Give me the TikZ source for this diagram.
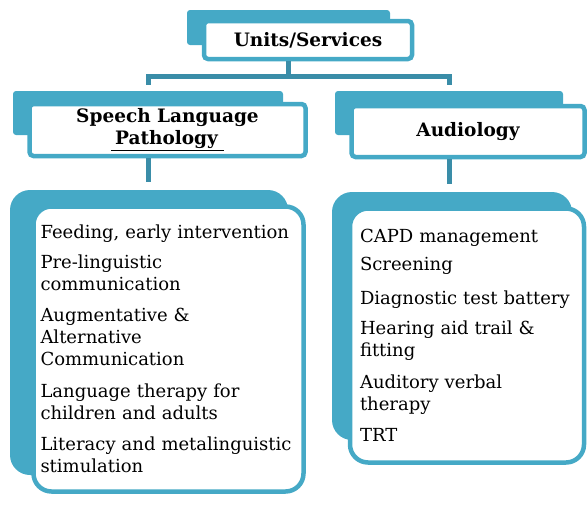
\documentclass[tikz,border=0pt]{standalone}
\usepackage{fontspec}
\setmainfont{DejaVu Serif}
\definecolor{boxteal}{HTML}{45A9C6}
\definecolor{linkteal}{HTML}{3A8DA8}
\begin{document}
\begin{tikzpicture}[x=1pt, y=-1pt,
  back/.style={fill=boxteal, rounded corners=3pt, inner sep=0pt},
  backlist/.style={fill=boxteal, rounded corners=20pt, inner sep=0pt},
  head/.style={draw=boxteal, line width=4.5pt, fill=white, rounded corners=4pt,
    font=\bfseries\fontsize{18.5}{22}\selectfont, align=center, inner sep=0pt},
  list/.style={draw=boxteal, line width=4.5pt, fill=white, rounded corners=18pt,
    font=\fontsize{18}{22}\selectfont, align=left, inner sep=0pt},
  link/.style={draw=linkteal, line width=5pt}]
  \useasboundingbox (0,0) rectangle (588,504);
  % back plates
  \node[back, minimum width=203pt, minimum height=35pt] (unitsbk) at (288.5,27.5) {};
  \node[back, minimum width=270pt, minimum height=44pt] (slpbk) at (148,113) {};
  \node[back, minimum width=228pt, minimum height=44pt] (audbk) at (449,113) {};
  \node[backlist, minimum width=278pt, minimum height=285pt] (slplistbk) at (149,332.5) {};
  \node[backlist, minimum width=240pt, minimum height=248pt] (audlistbk) at (452,316) {};
  % front boxes
  \node[head, minimum width=208pt, minimum height=38pt] (units) at (308,40) {Units/Services};
  \node[head, minimum width=276pt, minimum height=52pt] (slp) at (167.5,130)
    {Speech Language\\\underline{\hspace{4pt}Pathology\hspace{6pt}}};
  \node[head, minimum width=233pt, minimum height=51pt] (aud) at (468,131.5) {Audiology};
  \node[list, minimum width=270pt, minimum height=285pt, text width=256pt] (slplist) at (168.5,349)
    {Feeding, early intervention\\[8pt]
     Pre-linguistic\\communication\\[9pt]
     Augmentative \&\\Alternative\\Communication\\[10pt]
     Language therapy for\\children and adults\\[9pt]
     Literacy and metalinguistic\\stimulation};
  \node[list, minimum width=234pt, minimum height=254pt, text width=214pt] (audlist) at (467,335.5)
    {CAPD management\\[6pt]
     Screening\\[12pt]
     Diagnostic test battery\\[8pt]
     Hearing aid trail \&\\fitting\\[10pt]
     Auditory verbal\\therapy\\[9pt]
     TRT};
  % connectors
  \coordinate (fork) at (288,76);
  \draw[link] (unitsbk |- units.south) -- (unitsbk |- fork);
  \draw[link] ([yshift=6pt]slpbk.north) |- (fork) -| ([yshift=6pt]audbk.north);
  \draw[link] (slpbk |- slp.south) -- ([yshift=8pt]slplistbk.north -| slpbk);
  \draw[link] (audbk |- aud.south) -- ([yshift=8pt]audlistbk.north -| audbk);
\end{tikzpicture}
\end{document}
